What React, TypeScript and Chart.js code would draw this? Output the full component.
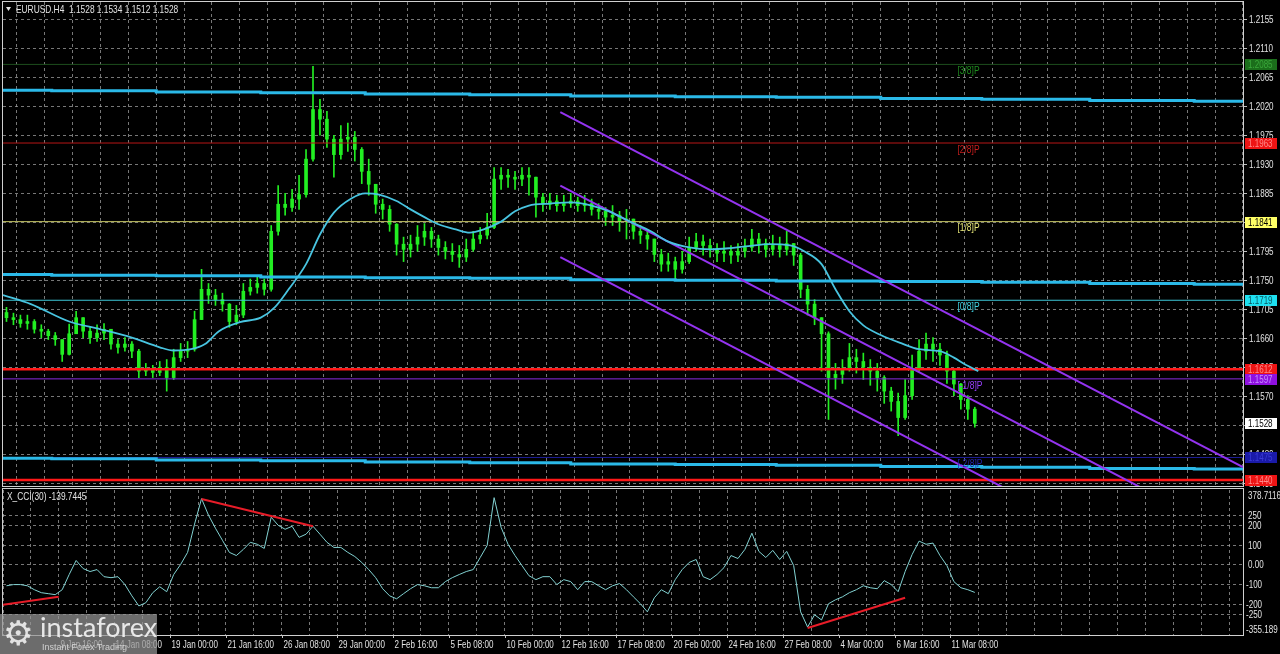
import React, { useEffect, useRef } from 'react';
import { Chart, registerables } from 'chart.js';

Chart.register(...registerables);

// ---------------- data ----------------
const firstOpen = 1.17;
const closes = [
  1.1692, 1.1689, 1.1683, 1.1686, 1.1674, 1.1671, 1.1664, 1.1658, 1.1635, 1.1667,
  1.1692, 1.1671, 1.1661, 1.1668, 1.1674, 1.1651, 1.1646, 1.1651, 1.1640, 1.1609,
  1.1612, 1.1607, 1.1615, 1.1599, 1.1630, 1.1640, 1.1643, 1.1689, 1.1736, 1.1727,
  1.1720, 1.1713, 1.1686, 1.1696, 1.1733, 1.1739, 1.1745, 1.1736, 1.1826, 1.1868,
  1.1863, 1.1876, 1.1883, 1.1938, 1.2015, 1.2000, 1.1969, 1.1945, 1.1969, 1.1972,
  1.1953, 1.1919, 1.1899, 1.1868, 1.1860, 1.1837, 1.1806, 1.1798, 1.1806, 1.1817,
  1.1826, 1.1814, 1.1801, 1.1795, 1.1790, 1.1786, 1.1798, 1.1814, 1.1820, 1.1832,
  1.1907, 1.1913, 1.1910, 1.1907, 1.1913, 1.1910, 1.1879, 1.1868, 1.1873, 1.1866,
  1.1869, 1.1873, 1.1866, 1.1869, 1.1860, 1.1857, 1.1848, 1.1851, 1.1841, 1.1845,
  1.1826, 1.1820, 1.1814, 1.1790, 1.1775, 1.1779, 1.1767, 1.1779, 1.1801, 1.1810,
  1.1804, 1.1798, 1.1792, 1.1795, 1.1789, 1.1795, 1.1801, 1.1814, 1.1807, 1.1798,
  1.1804, 1.1798, 1.1807, 1.1789, 1.1736, 1.1713, 1.1692, 1.1667, 1.1599, 1.1604,
  1.1612, 1.1630, 1.1624, 1.1615, 1.1609, 1.1599, 1.1578, 1.1562, 1.1537, 1.1571,
  1.1612, 1.1640, 1.1651, 1.1643, 1.1634, 1.1609, 1.1589, 1.1565, 1.1550, 1.1528,
];
const highs = [
  1.1708, 1.1699, 1.1696, 1.1696, 1.1689, 1.1681, 1.1674, 1.1669, 1.1658, 1.1682,
  1.1702, 1.1692, 1.1677, 1.1681, 1.1683, 1.1671, 1.1658, 1.1661, 1.1655, 1.1643,
  1.1621, 1.1618, 1.1624, 1.1627, 1.1643, 1.1652, 1.1655, 1.1702, 1.1767, 1.1745,
  1.1736, 1.1730, 1.1714, 1.1711, 1.1745, 1.1752, 1.1755, 1.1752, 1.1835, 1.1897,
  1.1885, 1.1891, 1.1913, 1.1953, 1.2082, 1.2031, 1.2012, 1.1975, 1.1990, 1.1994,
  1.1981, 1.1956, 1.1938, 1.1894, 1.1876, 1.1866, 1.1838, 1.1817, 1.1820, 1.1835,
  1.1838, 1.1832, 1.1820, 1.1810, 1.1807, 1.1804, 1.1814, 1.1826, 1.1832, 1.1854,
  1.1925, 1.1925, 1.1922, 1.1919, 1.1925, 1.1925, 1.1907, 1.1885, 1.1885, 1.1882,
  1.1882, 1.1885, 1.1879, 1.1882, 1.1876, 1.1869, 1.1863, 1.1866, 1.1857, 1.1860,
  1.1841, 1.1835, 1.1829, 1.1814, 1.1798, 1.1792, 1.1786, 1.1795, 1.1817, 1.1823,
  1.1820, 1.1814, 1.1807, 1.1810, 1.1804, 1.1807, 1.1814, 1.1829, 1.1823, 1.1814,
  1.1820, 1.1817, 1.1826, 1.1807, 1.1792, 1.1742, 1.1720, 1.1692, 1.1670, 1.1621,
  1.1627, 1.1652, 1.1643, 1.1637, 1.1627, 1.1621, 1.1602, 1.1584, 1.1575, 1.1596,
  1.1634, 1.1658, 1.1668, 1.1661, 1.1652, 1.1640, 1.1612, 1.1590, 1.1571, 1.1553,
];
const lows = [
  1.1686, 1.1681, 1.1677, 1.1674, 1.1668, 1.1661, 1.1658, 1.1649, 1.1624, 1.1634,
  1.1671, 1.1661, 1.1652, 1.1655, 1.1658, 1.1643, 1.1637, 1.1640, 1.1630, 1.1599,
  1.1602, 1.1599, 1.1602, 1.1578, 1.1596, 1.1624, 1.1630, 1.1640, 1.1692, 1.1714,
  1.1711, 1.1702, 1.1677, 1.1681, 1.1692, 1.1727, 1.1730, 1.1727, 1.1733, 1.1820,
  1.1851, 1.1857, 1.1860, 1.1879, 1.1935, 1.1975, 1.1956, 1.1910, 1.1938, 1.1950,
  1.1935, 1.1900, 1.1882, 1.1854, 1.1845, 1.1826, 1.1789, 1.1779, 1.1786, 1.1795,
  1.1804, 1.1801, 1.1789, 1.1783, 1.1779, 1.1770, 1.1779, 1.1795, 1.1807, 1.1814,
  1.1830, 1.1891, 1.1894, 1.1891, 1.1897, 1.1882, 1.1848, 1.1857, 1.1860, 1.1857,
  1.1857, 1.1863, 1.1857, 1.1857, 1.1851, 1.1845, 1.1835, 1.1835, 1.1826, 1.1814,
  1.1814, 1.1807, 1.1798, 1.1779, 1.1764, 1.1764, 1.1752, 1.1761, 1.1776, 1.1795,
  1.1789, 1.1786, 1.1779, 1.1779, 1.1776, 1.1779, 1.1786, 1.1795, 1.1792, 1.1786,
  1.1789, 1.1786, 1.1789, 1.1773, 1.1723, 1.1696, 1.1681, 1.1609, 1.1534, 1.1581,
  1.1590, 1.1609, 1.1606, 1.1596, 1.1587, 1.1578, 1.1559, 1.1547, 1.1509, 1.1534,
  1.1565, 1.1609, 1.1627, 1.1624, 1.1618, 1.1590, 1.1571, 1.1550, 1.1534, 1.1522,
];
const cciValues = [
  -106, -100, -100, -106, -126, -141, -146, -151, -126, -49,
  22, -19, -34, -24, -60, -65, -60, -100, -157, -208,
  -192, -141, -111, -136, -49, 2, 63, 206, 335, 251,
  185, 124, 63, 47, 78, 114, 104, 83, 241, 200,
  180, 195, 139, 155, 195, 155, 114, 88, 88, 63,
  42, 12, -24, -65, -121, -157, -172, -146, -121, -100,
  -106, -116, -116, -85, -65, -49, -34, -24, 37, 98,
  340, 190, 104, 47, -4, -55, -75, -60, -60, -100,
  -75, -85, -126, -85, -85, -106, -126, -106, -95, -126,
  -162, -197, -238, -167, -126, -146, -75, -24, 12, 27,
  -60, -75, -49, -14, 47, 32, 78, 160, 68, 37,
  73, 27, 68, -4, -238, -315, -253, -279, -197, -177,
  -162, -141, -126, -106, -116, -121, -80, -100, -136, -34,
  52, 120, 104, 110, 47, -4, -85, -116, -126, -139.7445,
];
const maBars = [
  0, 8, 19, 28, 37, 45, 49, 54, 58, 62, 68, 74, 78, 82, 87, 91, 95, 100, 104, 108,
  113, 117, 121, 125, 130, 134, 138, 143, 147, 151, 157, 163, 169, 174, 180, 186, 191, 197, 203, 209,
  214, 220, 226, 230, 235, 239, 243, 247, 252, 258, 263, 269, 273, 276, 280,
];
const maValues = [
  1.1727, 1.1713, 1.1686, 1.1674, 1.1661, 1.1646, 1.1641, 1.1643, 1.1651, 1.1671,
  1.1685, 1.1692, 1.1708, 1.1736, 1.1775, 1.1821, 1.1855, 1.1877, 1.1885, 1.1883,
  1.1873, 1.1860, 1.1848, 1.1837, 1.1829, 1.1824, 1.1829, 1.1841, 1.1857, 1.1866,
  1.1869, 1.1871, 1.1866, 1.1857, 1.1841, 1.1826, 1.1810, 1.1801, 1.1798, 1.1800,
  1.1803, 1.1806, 1.1804, 1.1795, 1.1775, 1.1736, 1.1702, 1.1680, 1.1665, 1.1652,
  1.1643, 1.1640, 1.1630, 1.1620, 1.1609,
];
const channelBars = [0, 14, 44, 74, 104, 134, 163, 193, 222, 252, 281, 312, 342, 356];
const channelUpper = [1.2045, 1.2044, 1.2042, 1.2041, 1.2039, 1.2038, 1.2036, 1.2035, 1.2034, 1.2032, 1.2031, 1.2029, 1.2028, 1.2028];
const channelMiddle = [1.1759, 1.1758, 1.1757, 1.1755, 1.1754, 1.1753, 1.1751, 1.1750, 1.1749, 1.1748, 1.1747, 1.1745, 1.1744, 1.1744];
const channelLower = [1.1474, 1.1473, 1.1471, 1.1470, 1.1468, 1.1467, 1.1465, 1.1464, 1.1463, 1.1461, 1.1460, 1.1458, 1.1457, 1.1457];
const trendBars = [160, 356];
const trendUpper = [1.2011, 1.146];
const trendMiddle = [1.1897, 1.1346];
const trendLower = [1.1786, 1.1235];
const murreyValues = [1.2085, 1.1963, 1.1841, 1.1719, 1.1597, 1.1475];
const murreyNames = ['[3/8]P', '[2/8]P', '[1/8]P', '[0/8]P', '[-1/8]P', '[-2/8]P'];
const redLevels = [1.1612, 1.144];
const markerValues = [1.2085, 1.1963, 1.1841, 1.1719, 1.1612, 1.1597, 1.1528, 1.1475, 1.144];
const priceTicks = [1.2155, 1.211, 1.2065, 1.202, 1.1975, 1.193, 1.1885, 1.184, 1.1795, 1.175, 1.1705, 1.166, 1.1615, 1.157, 1.1525, 1.148, 1.1435];
const cciLevels = [250, 200, 100, 0, -100, -200, -250];
const cciScaleMax = 378.7116;
const cciScaleMin = -355.189;
const cciTrend1Bars = [0, 16];
const cciTrend1Values = [-202, -162];
const cciTrend2Bars = [57, 89];
const cciTrend2Values = [333, 195];
const cciTrend3Bars = [231, 259];
const cciTrend3Values = [-320, -167];
const xTickLabels = [
  '9 Jan 16:00', '14 Jan 08:00', '19 Jan 00:00', '21 Jan 16:00', '26 Jan 08:00', '29 Jan 00:00',
  '2 Feb 16:00', '5 Feb 08:00', '10 Feb 00:00', '12 Feb 16:00', '17 Feb 08:00', '20 Feb 00:00',
  '24 Feb 16:00', '27 Feb 08:00', '4 Mar 00:00', '6 Mar 16:00', '11 Mar 08:00',
];
const title = 'EURUSD.H4  1.1528 1.1534 1.1512 1.1528';
const cciName = 'X_CCI(30)';

// ---------------- styles ----------------
const FONT = "'Liberation Sans', Arial, sans-serif";
const FS = 11;
const SX = 0.73; // horizontal condensing of axis text
const X_MAX = 356;
const PRICE_MIN = 1.143076;
const PRICE_MAX = 1.218185;
const GRID = 'rgba(170,170,170,0.7)';
const FRAME = '#d0d0d0';
const TXT = '#e2e2e2';
const CANDLE = '#22ee22';
const murreyLineColors = ['#1d4d1d', '#b81616', '#c8c864', '#3cc6d6', '#8a2be2', '#1c1c96'];
const murreyTextColors = ['#1f8c1f', '#c81e1e', '#e6e678', '#40d0e0', '#9a40ff', '#2424a8'];
const markerFill = ['#1b6e1b', '#ee1414', '#ffff66', '#1ee0f0', '#ee1414', '#8f10e0', '#ffffff', '#1a1aa8', '#ee1414'];
const markerText = ['#3aa83a', '#ff8a8a', '#000000', '#0b5560', '#ff8a8a', '#c890ff', '#000000', '#3a3ad8', '#ff8a8a'];
const LABEL_BAR = 274;

function drawText(ctx: any, text: string, x: number, y: number, color: string, size = FS, sx = SX, baseline = 'middle') {
  ctx.save();
  ctx.translate(x, y);
  ctx.scale(sx, 1);
  ctx.font = `${size}px ${FONT}`;
  ctx.fillStyle = color;
  ctx.textAlign = 'left';
  ctx.textBaseline = baseline;
  ctx.fillText(text, 0, 0);
  ctx.restore();
}

const mkLine = (bars: number[], vals: number[], color: string, width: number, order: number, extra: any = {}) => ({
  type: 'line',
  data: bars.map((b, i) => ({ x: b, y: vals[i] })),
  borderColor: color,
  borderWidth: width,
  pointRadius: 0,
  fill: false,
  order,
  ...extra,
});

function xScaleBase(): any {
  return {
    type: 'linear',
    min: 0,
    max: X_MAX,
    bounds: 'data',
    offset: false,
    afterBuildTicks: (s: any) => {
      const t: any[] = [];
      for (let v = 0; v <= X_MAX; v += 8) t.push({ value: v });
      s.ticks = t;
    },
    border: { display: false, dash: [3, 3] },
  };
}

function priceConfig(): any {
  const opens = closes.map((c, i) => (i === 0 ? firstOpen : closes[i - 1]));
  const xs = closes.map((_, i) => 2 * i + 1);
  const wick = xs.map((x, i) => ({ x, y: [Math.min(lows[i], opens[i], closes[i]), Math.max(highs[i], opens[i], closes[i])] }));
  const body = xs.map((x, i) => ({ x, y: [opens[i], closes[i]] }));

  const datasets: any[] = [
    { type: 'bar', data: wick, backgroundColor: CANDLE, barThickness: 1, grouped: false, order: 11 },
    { type: 'bar', data: body, backgroundColor: CANDLE, borderWidth: 0, barThickness: 3, grouped: false, order: 10 },
  ];
  murreyValues.forEach((v, i) => datasets.push(mkLine([0, X_MAX], [v, v], murreyLineColors[i], 1, 8)));
  datasets.push(mkLine(channelBars, channelUpper, '#2bb9e8', 3, 7, { stepped: true }));
  datasets.push(mkLine(channelBars, channelMiddle, '#2bb9e8', 3, 7, { stepped: true }));
  datasets.push(mkLine(channelBars, channelLower, '#2bb9e8', 3, 7, { stepped: true }));
  redLevels.forEach((v) => datasets.push(mkLine([0, X_MAX], [v, v], '#ff1818', 2.5, 6)));
  datasets.push(mkLine(trendBars, trendUpper, '#9433f0', 2, 5));
  datasets.push(mkLine(trendBars, trendMiddle, '#9433f0', 2, 5));
  datasets.push(mkLine(trendBars, trendLower, '#9433f0', 2, 5));
  datasets.push(mkLine(maBars, maValues, '#48c4e0', 1.8, 4, { cubicInterpolationMode: 'monotone' }));

  const decor = {
    id: 'priceDecor',
    afterDraw(chart: any) {
      const { ctx, chartArea: ca, scales } = chart;
      const y = scales.y;
      const x = scales.x;
      ctx.save();
      ctx.strokeStyle = FRAME;
      ctx.lineWidth = 1;
      ctx.strokeRect(ca.left - 0.5, ca.top - 0.5, ca.right - ca.left + 1, ca.bottom - ca.top + 1);
      // axis tick labels
      priceTicks.forEach((v) => drawText(ctx, v.toFixed(4), ca.right + 6, y.getPixelForValue(v) + 0.5, TXT));
      // title
      ctx.fillStyle = TXT;
      ctx.beginPath();
      ctx.moveTo(6, 7);
      ctx.lineTo(11, 7);
      ctx.lineTo(8.5, 11);
      ctx.closePath();
      ctx.fill();
      drawText(ctx, title, 16, 9.5, TXT, FS, 0.76);
      // murrey labels
      const lx = x.getPixelForValue(LABEL_BAR);
      murreyValues.forEach((v, i) => drawText(ctx, murreyNames[i], lx, y.getPixelForValue(v) + 2, murreyTextColors[i], 10, 0.85, 'top'));
      // axis markers
      markerValues.forEach((v, i) => {
        const py = Math.round(y.getPixelForValue(v));
        ctx.fillStyle = markerFill[i];
        ctx.fillRect(1245, py - 5, 32, 11);
        drawText(ctx, v.toFixed(4), 1248, py + 0.5, markerText[i]);
      });
      ctx.restore();
    },
  };

  return {
    type: 'bar',
    data: { datasets },
    plugins: [decor],
    options: {
      responsive: false,
      animation: false,
      events: [],
      layout: { padding: { left: 3, top: 2, right: 0, bottom: 1 } },
      plugins: { legend: { display: false }, tooltip: { enabled: false } },
      scales: {
        x: {
          ...xScaleBase(),
          ticks: { display: false },
          grid: { color: GRID, drawTicks: false },
          afterFit: (s: any) => { s.height = 0; s.paddingLeft = 0; s.paddingRight = 0; },
        },
        y: {
          type: 'linear',
          position: 'right',
          min: PRICE_MIN,
          max: PRICE_MAX,
          bounds: 'data',
          afterBuildTicks: (s: any) => { s.ticks = priceTicks.map((v) => ({ value: v })); },
          afterFit: (s: any) => { s.width = 37; s.paddingTop = 0; s.paddingBottom = 0; },
          ticks: { display: false },
          grid: { color: GRID, drawTicks: true, tickLength: 4, tickColor: '#bdbdbd' },
          border: { display: false, dash: [3, 3] },
        },
      },
    },
  };
}

function cciConfig(): any {
  const xs = cciValues.map((_, i) => 2 * i + 1);
  const datasets: any[] = [
    mkLine(xs, cciValues, '#82d2d2', 1, 5),
    mkLine(cciTrend1Bars, cciTrend1Values, '#e81c28', 2, 3),
    mkLine(cciTrend2Bars, cciTrend2Values, '#e81c28', 2, 3),
    mkLine(cciTrend3Bars, cciTrend3Values, '#e81c28', 2, 3),
  ];
  const decor = {
    id: 'cciDecor',
    afterDraw(chart: any) {
      const { ctx, chartArea: ca, scales } = chart;
      const x = scales.x;
      const y = scales.y;
      ctx.save();
      ctx.strokeStyle = FRAME;
      ctx.lineWidth = 1;
      ctx.strokeRect(ca.left - 0.5, ca.top - 1.5, ca.right - ca.left + 1, ca.bottom - ca.top + 2);
      // tick marks + labels of time axis
      ctx.strokeStyle = '#c8c8c8';
      xTickLabels.forEach((lab, k) => {
        const px = Math.round(x.getPixelForValue((k + 1) * 16)) + 0.5;
        ctx.beginPath();
        ctx.moveTo(px, ca.bottom);
        ctx.lineTo(px, ca.bottom + 3);
        ctx.stroke();
        drawText(ctx, lab, px + 1, ca.bottom + 10, TXT);
      });
      cciLevels.forEach((v) => drawText(ctx, v === 0 ? '0.00' : String(v), ca.right + (v < 0 ? 3 : 5), y.getPixelForValue(v) + 0.5, TXT));
      drawText(ctx, `${cciName} ${cciValues[cciValues.length - 1].toFixed(4)}`, 7, 10, TXT, FS, 0.76);
      drawText(ctx, cciScaleMax.toFixed(4), ca.right + 5, 9, TXT);
      drawText(ctx, cciScaleMin.toFixed(3), ca.right + 3, 143, TXT);
      ctx.restore();
    },
  };
  return {
    type: 'line',
    data: { datasets },
    plugins: [decor],
    options: {
      responsive: false,
      animation: false,
      events: [],
      layout: { padding: { left: 3, top: 3, right: 0, bottom: 0 } },
      plugins: { legend: { display: false }, tooltip: { enabled: false } },
      scales: {
        x: {
          ...xScaleBase(),
          position: 'bottom',
          afterFit: (s: any) => { s.height = 19; s.paddingLeft = 0; s.paddingRight = 0; },
          ticks: { display: false },
          grid: { color: GRID, drawTicks: false },
        },
        y: {
          type: 'linear',
          position: 'right',
          min: cciScaleMin,
          max: cciScaleMax,
          bounds: 'data',
          afterBuildTicks: (s: any) => { s.ticks = cciLevels.map((v) => ({ value: v })); },
          afterFit: (s: any) => { s.width = 37; s.paddingTop = 0; s.paddingBottom = 0; },
          ticks: { display: false },
          grid: { color: GRID, drawTicks: false },
          border: { display: false, dash: [3, 3] },
        },
      },
    },
  };
}

export default function App() {
  const priceRef = useRef<HTMLCanvasElement>(null);
  const cciRef = useRef<HTMLCanvasElement>(null);
  useEffect(() => {
    const c1 = new Chart(priceRef.current as HTMLCanvasElement, priceConfig());
    const c2 = new Chart(cciRef.current as HTMLCanvasElement, cciConfig());
    return () => {
      c1.destroy();
      c2.destroy();
    };
  }, []);
  return (
    <div style={{ position: 'absolute', left: 0, top: 0, width: 1280, height: 654, background: '#000', overflow: 'hidden' }}>
      <canvas ref={priceRef} width={1280} height={487} style={{ position: 'absolute', left: 0, top: 0, display: 'block' }} />
      <canvas ref={cciRef} width={1280} height={167} style={{ position: 'absolute', left: 0, top: 487, display: 'block' }} />
      <div style={{ position: 'absolute', left: 0, top: 614, width: 157, height: 40, background: 'rgba(150,150,150,0.72)', overflow: 'hidden' }}>
        <div style={{ position: 'absolute', left: 3, top: 0, fontSize: 34, lineHeight: '38px', color: 'rgba(240,240,240,0.9)', fontFamily: "'DejaVu Sans', sans-serif" }}>⚙</div>
        <div style={{ position: 'absolute', left: 40, top: -3, fontSize: 27, lineHeight: '32px', color: 'rgba(242,242,242,0.92)', fontFamily: "Lato, 'Open Sans', sans-serif" }}>instaforex</div>
        <div style={{ position: 'absolute', left: 42, top: 28, fontSize: 9, lineHeight: '10px', color: 'rgba(230,230,230,0.8)', fontFamily: "'Liberation Sans', sans-serif" }}>Instant Forex Trading</div>
      </div>
    </div>
  );
}
